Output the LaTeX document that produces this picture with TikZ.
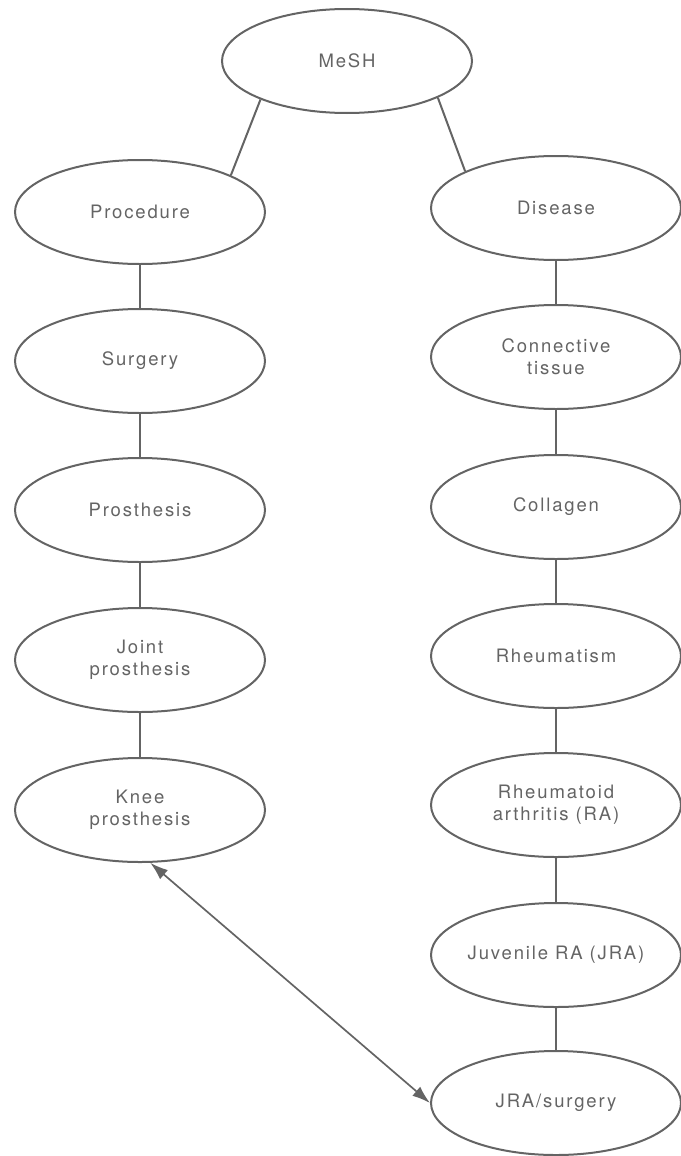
\documentclass[tikz,border=0pt]{standalone}
\usepackage{fontspec}
\setmainfont{TeX Gyre Heros}[LetterSpace=10]
\usetikzlibrary{shapes.geometric,arrows.meta}
\definecolor{ink}{RGB}{100,100,100}
\begin{document}
\begin{tikzpicture}[x=1pt,y=-1pt,
  term/.style={ellipse,draw=ink,line width=2pt,minimum width=250pt,minimum height=104pt,
    inner sep=0pt,text=ink,font=\fontsize{18.5}{22}\selectfont,align=center},
  link/.style={draw=ink,line width=2pt},
  crossref/.style={draw=ink,line width=1.7pt,{Latex[length=18pt,width=12pt]}-{Latex[length=18pt,width=12pt]}}]
\useasboundingbox (0,0) rectangle (680,1156);
% root
\node[term] (mesh) at (347,61) {MeSH};
% procedure branch
\node[term] (proc) at (140,212) {Procedure};
\node[term] (surg) at (140,361) {Surgery};
\node[term] (pros) at (140,510) {Prosthesis};
\node[term] (joint) at (140,660) {Joint\\prosthesis};
\node[term] (knee) at (140,810) {Knee\\prosthesis};
% disease branch
\node[term] (dis) at (556,208) {Disease};
\node[term] (conn) at (556,357) {Connective\\tissue};
\node[term] (coll) at (556,507) {Collagen};
\node[term] (rheum) at (556,656) {Rheumatism};
\node[term] (ra) at (556,805) {Rheumatoid\\arthritis (RA)};
\node[term] (jra) at (556,955) {Juvenile RA (JRA)};
\node[term] (jrasurg) at (556,1103) {JRA/surgery};
% hierarchy links
\draw[link] (mesh.204) -- (proc.22);
\draw[link] (mesh.-22) -- (dis.158);
\draw[link] (proc) -- (surg);
\draw[link] (surg) -- (pros);
\draw[link] (pros) -- (joint);
\draw[link] (joint) -- (knee);
\draw[link] (dis) -- (conn);
\draw[link] (conn) -- (coll);
\draw[link] (coll) -- (rheum);
\draw[link] (rheum) -- (ra);
\draw[link] (ra) -- (jra);
\draw[link] (jra) -- (jrasurg);
% cross reference
\draw[crossref] (knee.-79) -- (jrasurg.west);
\end{tikzpicture}
\end{document}
